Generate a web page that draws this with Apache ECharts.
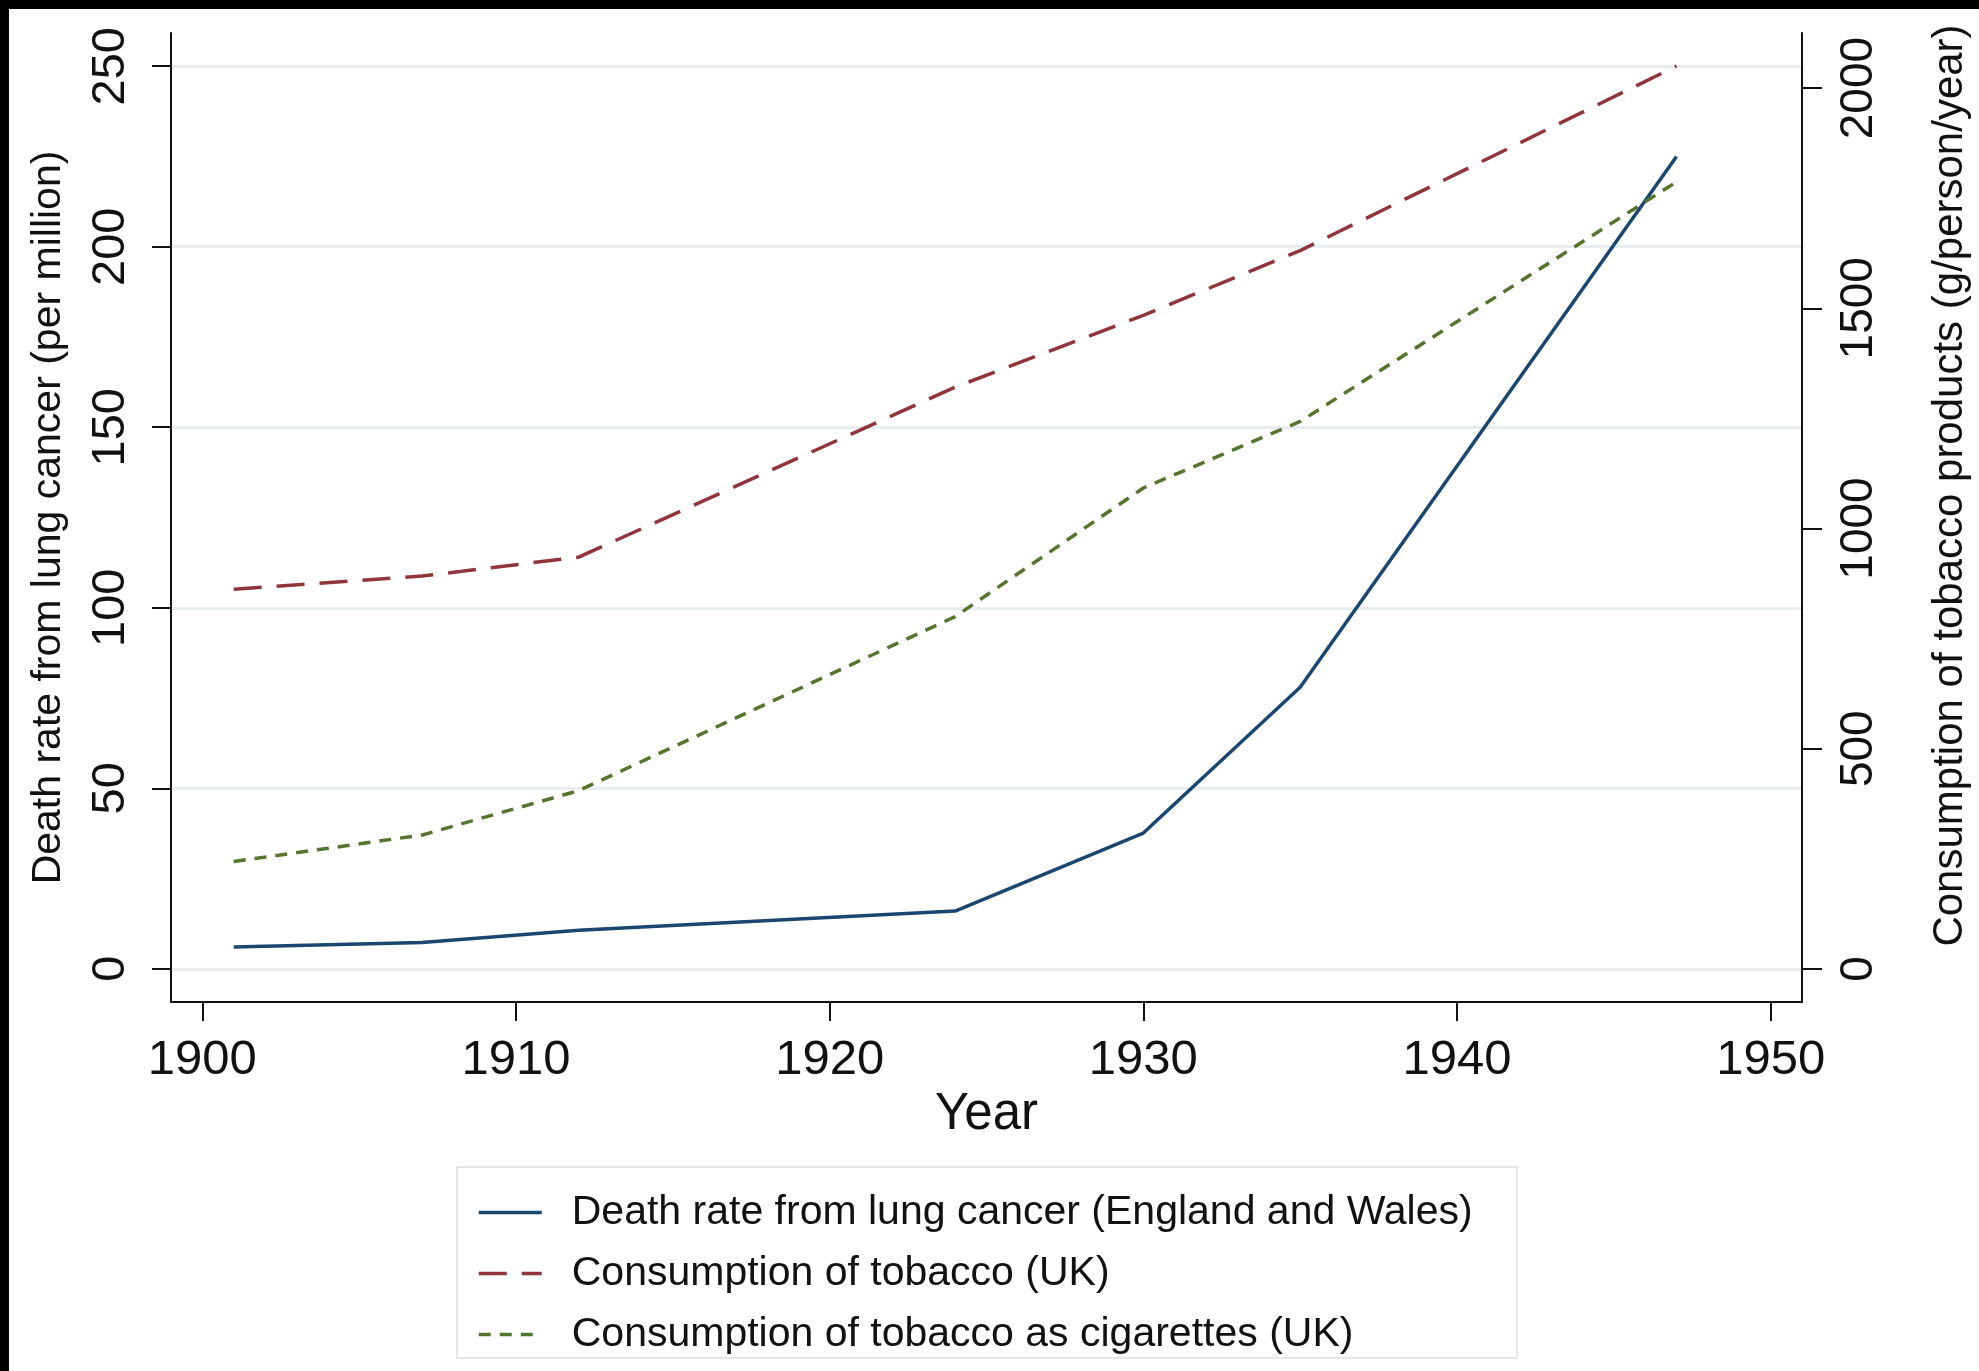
<!DOCTYPE html>
<html>
<head>
<meta charset="utf-8">
<script src="https://cdn.jsdelivr.net/npm/echarts@6/dist/echarts.min.js"></script>
<style>
  html, body { margin: 0; padding: 0; background: #ffffff; }
  #chart { width: 1979px; height: 1371px; }
</style>
</head>
<body>
<div id="chart"></div>
<script>
// Lung cancer mortality vs. tobacco consumption, 1901-1947
const years = [1901, 1907, 1912, 1924, 1930, 1935, 1947];
const deathRate = [6.0, 7.3, 10.7, 16.0, 37.6, 78.0, 225.0];     // per million (left axis)
const tobacco = [862, 892, 935, 1321, 1484, 1631, 2050];         // g/person/year (right axis)
const cigarettes = [244, 304, 405, 800, 1092, 1243, 1787];       // g/person/year (right axis)

const yearTicks = [1900, 1910, 1920, 1930, 1940, 1950];
const deathTicks = [0, 50, 100, 150, 200, 250];
const consumptionTicks = [0, 500, 1000, 1500, 2000];

const seriesNames = [
  'Death rate from lung cancer (England and Wales)',
  'Consumption of tobacco (UK)',
  'Consumption of tobacco as cigarettes (UK)'
];

const FONT = "'Liberation Sans', Arial, Helvetica, sans-serif";
const INK = '#111111';
const axisLine = { show: true, lineStyle: { color: INK, width: 2 } };
const plain = (v) => String(v);   // no thousands separators

const pairs = (vals) => years.map((y, i) => [y, vals[i]]);

const chart = echarts.init(document.getElementById('chart'), null, { renderer: 'canvas' });

chart.setOption({
  animation: false,
  backgroundColor: '#ffffff',
  textStyle: { fontFamily: FONT, color: INK },
  grid: { left: 171, right: 177, top: 33, bottom: 369, containLabel: false },
  xAxis: {
    type: 'value',
    min: 1899,
    max: 1951,
    axisLine: { ...axisLine, onZero: false },
    axisTick: { show: true, inside: false, length: 19, customValues: yearTicks, lineStyle: { color: INK, width: 2 } },
    axisLabel: { customValues: yearTicks, formatter: plain, fontSize: 49, margin: 34, color: INK, fontFamily: FONT },
    splitLine: { show: false },
    name: 'Year',
    nameLocation: 'middle',
    nameGap: 85,
    nameTextStyle: { fontSize: 51, color: INK, fontFamily: FONT }
  },
  yAxis: [
    {
      type: 'value',
      position: 'left',
      min: -9.2,
      max: 259.2,
      axisLine: { ...axisLine, onZero: false },
      axisTick: { show: true, inside: false, length: 19, customValues: deathTicks, lineStyle: { color: INK, width: 2 } },
      axisLabel: { customValues: deathTicks, formatter: plain, rotate: 90, fontSize: 47, margin: 36, color: INK, fontFamily: FONT },
      splitLine: { show: true, lineStyle: { color: '#e8eef0', width: 3 } },
      name: 'Death rate from lung cancer (per million)',
      nameLocation: 'middle',
      nameRotate: 90,
      nameGap: 102,
      nameTextStyle: { fontSize: 41, color: INK, fontFamily: FONT }
    },
    {
      type: 'value',
      position: 'right',
      min: -75,
      max: 2125,
      axisLine: { ...axisLine, onZero: false },
      axisTick: { show: true, inside: false, length: 20, customValues: consumptionTicks, lineStyle: { color: INK, width: 2 } },
      axisLabel: { customValues: consumptionTicks, formatter: plain, rotate: 90, fontSize: 46, margin: 34, color: INK, fontFamily: FONT },
      splitLine: { show: false },
      name: 'Consumption of tobacco products (g/person/year)',
      nameLocation: 'middle',
      nameRotate: 90,
      nameGap: 127,
      nameTextStyle: { fontSize: 42, color: INK, fontFamily: FONT, padding: [0, 0, 0, 64] }
    }
  ],
  legend: {
    orient: 'vertical',
    left: 477,
    top: 1192,
    padding: 0,
    itemWidth: 63,
    itemHeight: 14,
    itemGap: 20,
    selectedMode: false,
    itemStyle: { opacity: 0 },
    lineStyle: { width: 3.5 },
    textStyle: { fontSize: 41, color: INK, fontFamily: FONT, padding: [0, 0, 0, 25] },
    data: seriesNames
  },
  graphic: [
    { type: 'rect', shape: { x: 457, y: 1167, width: 1060, height: 191 }, style: { fill: 'none', stroke: '#e3e7ea', lineWidth: 2 }, z: 0 },
    { type: 'rect', shape: { x: 0, y: 0, width: 1979, height: 9 }, style: { fill: '#000000' }, z: 100 },
    { type: 'rect', shape: { x: 0, y: 0, width: 9, height: 1371 }, style: { fill: '#000000' }, z: 100 }
  ],
  series: [
    {
      name: seriesNames[0],
      type: 'line',
      yAxisIndex: 0,
      data: pairs(deathRate),
      symbol: 'none',
      itemStyle: { color: '#1a476f' },
      lineStyle: { color: '#1a476f', width: 3.5, type: 'solid', join: 'round' }
    },
    {
      name: seriesNames[1],
      type: 'line',
      yAxisIndex: 1,
      data: pairs(tobacco),
      symbol: 'none',
      itemStyle: { color: '#90353b' },
      lineStyle: { color: '#90353b', width: 3.5, type: [28, 15] }
    },
    {
      name: seriesNames[2],
      type: 'line',
      yAxisIndex: 1,
      data: pairs(cigarettes),
      symbol: 'none',
      itemStyle: { color: '#55752f' },
      lineStyle: { color: '#55752f', width: 3.5, type: [12, 9] }
    }
  ]
});
</script>
</body>
</html>
